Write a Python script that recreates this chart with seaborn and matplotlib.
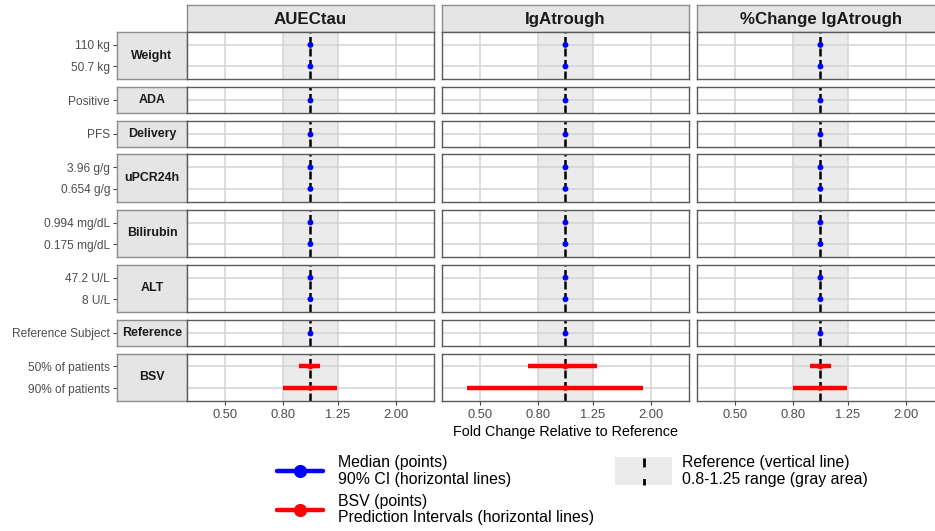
import numpy as np
import pandas as pd
import matplotlib
matplotlib.use("Agg")
import matplotlib.pyplot as plt
from matplotlib.lines import Line2D
from matplotlib.patches import Rectangle
from matplotlib.legend_handler import HandlerBase
from matplotlib.ticker import FixedLocator, FixedFormatter, NullLocator
import seaborn as sns

sns.set_theme(style="white")
plt.rcParams["font.family"] = ["Liberation Sans", "DejaVu Sans"]

# ---------------------------------------------------------------- data
endpoints = ["AUECtau", "IgAtrough", "%Change IgAtrough"]
groups = ["Weight", "ADA", "Delivery", "uPCR24h", "Bilirubin", "ALT", "Reference", "BSV"]
row_labels = [
    ["110 kg", "50.7 kg"],
    ["Positive"],
    ["PFS"],
    ["3.96 g/g", "0.654 g/g"],
    ["0.994 mg/dL", "0.175 mg/dL"],
    ["47.2 U/L", "8 U/L"],
    ["Reference Subject"],
    ["50% of patients", "90% of patients"],
]

# covariate effects (median and 90% CI), rows Weight .. Reference
cov_median = {
    "AUECtau":           [1.00, 1.00, 1.00, 1.00, 1.00, 1.00, 1.00, 1.00, 1.00, 1.00, 1.00],
    "IgAtrough":         [1.00, 1.00, 1.00, 1.00, 1.00, 1.00, 1.00, 1.00, 1.00, 1.00, 1.00],
    "%Change IgAtrough": [1.00, 1.00, 1.00, 1.00, 1.00, 1.00, 1.00, 1.00, 1.00, 1.00, 1.00],
}
cov_lower = {
    "AUECtau":           [1.00, 1.00, 1.00, 1.00, 1.00, 1.00, 1.00, 1.00, 1.00, 1.00, 1.00],
    "IgAtrough":         [1.00, 1.00, 1.00, 1.00, 1.00, 1.00, 1.00, 1.00, 1.00, 1.00, 1.00],
    "%Change IgAtrough": [1.00, 1.00, 1.00, 1.00, 1.00, 1.00, 1.00, 1.00, 1.00, 1.00, 1.00],
}
cov_upper = {
    "AUECtau":           [1.00, 1.00, 1.00, 1.00, 1.00, 1.00, 1.00, 1.00, 1.00, 1.00, 1.00],
    "IgAtrough":         [1.00, 1.00, 1.00, 1.00, 1.00, 1.00, 1.00, 1.00, 1.00, 1.00, 1.00],
    "%Change IgAtrough": [1.00, 1.00, 1.00, 1.00, 1.00, 1.00, 1.00, 1.00, 1.00, 1.00, 1.00],
}

# between-subject variability: 50% and 90% prediction intervals
bsv_median = {"AUECtau": [1.00, 1.00], "IgAtrough": [1.00, 1.00], "%Change IgAtrough": [1.00, 1.00]}
bsv_lower = {"AUECtau": [0.914, 0.80], "IgAtrough": [0.738, 0.45], "%Change IgAtrough": [0.92, 0.80]}
bsv_upper = {"AUECtau": [1.077, 1.24], "IgAtrough": [1.29, 1.88], "%Change IgAtrough": [1.085, 1.24]}

x_breaks = [0.5, 0.8, 1.25, 2.0]
x_break_labels = ["0.50", "0.80", "1.25", "2.00"]
ref_low, ref_high = 0.8, 1.25

# ---------------------------------------------------------------- long table
records = []
for ep in endpoints:
    k = 0
    for g, labs in zip(groups, row_labels):
        for pos, lab in enumerate(labs):
            if g == "BSV":
                mid, lo, hi, kind = bsv_median[ep][pos], bsv_lower[ep][pos], bsv_upper[ep][pos], "BSV"
            else:
                mid, lo, hi, kind = cov_median[ep][k], cov_lower[ep][k], cov_upper[ep][k], "Median"
                k += 1
            records.append(dict(endpoint=ep, group=g, label=lab, pos=pos,
                                mid=mid, lo=lo, hi=hi, kind=kind))
df = pd.DataFrame(records)

# ---------------------------------------------------------------- layout (pixels)
W, H = 935, 531
fig = plt.figure(figsize=(W / 100, H / 100), dpi=100)


def frect(x0, y0, x1, y1):
    return [x0 / W, 1 - y1 / H, (x1 - x0) / W, (y1 - y0) / H]


col_left = [187, 442, 697]
col_w = 247
strip_x0, strip_x1 = 117, 187
top_strip = (5, 32)
unit, gap = 21.53, 7.8

palette = {"Median": "blue", "BSV": "red"}
grid_col = "#D3D3D3"
band_col = "#EBEBEB"
border_col = "#5A5A5A"
strip_edge = "#8C8C8C"
strip_fill = "#E5E5E5"
xlim = (0.368, 2.72)

# column strips
for ep, x0 in zip(endpoints, col_left):
    sa = fig.add_axes(frect(x0, top_strip[0], x0 + col_w, top_strip[1]))
    sa.set_facecolor(strip_fill)
    sa.set_xticks([]); sa.set_yticks([])
    for s in sa.spines.values():
        s.set_color(strip_edge); s.set_linewidth(1.0)
    sa.text(0.5, 0.47, ep, ha="center", va="center", fontsize=12.2,
            fontweight="bold", color="#1A1A1A", transform=sa.transAxes)

y = top_strip[1]
for gi, (g, labs) in enumerate(zip(groups, row_labels)):
    n = len(labs)
    h = (n - 1 + 1.2) * unit
    y0, y1 = y, y + h
    ylim = (n - 1 + 0.6, -0.6)
    last = gi == len(groups) - 1

    # row strip with the level labels on its left
    ra = fig.add_axes(frect(strip_x0, y0, strip_x1, y1))
    ra.set_facecolor(strip_fill)
    ra.set_ylim(ylim)
    ra.set_xticks([])
    ra.set_yticks(range(n))
    ra.set_yticklabels(labs)
    ra.tick_params(axis="y", left=True, length=3, width=0.8, color="#444444",
                   pad=2, labelsize=8.6, labelcolor="#4D4D4D")
    for s in ra.spines.values():
        s.set_color(strip_edge); s.set_linewidth(1.0)
    ra.text(0.5, 0.5, g, ha="center", va="center", fontsize=8.9,
            fontweight="bold", color="#1A1A1A", transform=ra.transAxes)

    for ep, x0 in zip(endpoints, col_left):
        ax = fig.add_axes(frect(x0, y0, x0 + col_w, y1))
        sub = df[(df.endpoint == ep) & (df.group == g)]
        ax.set_xscale("log")
        ax.set_xlim(xlim)
        ax.set_ylim(ylim)
        ax.axvspan(ref_low, ref_high, color=band_col, lw=0, zorder=0)
        for b in x_breaks:
            ax.axvline(b, color=grid_col, lw=1.1, zorder=1)
        for p in sub.pos:
            ax.axhline(p, color=grid_col, lw=1.1, zorder=1)
        ax.axvline(1.0, color="black", lw=1.8, ls=(0, (3.2, 1.4)), zorder=3)
        ax.hlines(sub.pos, sub.lo, sub.hi,
                  colors=[palette[k] for k in sub.kind], lw=3.2, zorder=4)
        sns.scatterplot(data=sub, x="mid", y="pos", hue="kind", palette=palette,
                        s=18, linewidth=0, legend=False, ax=ax, zorder=5)
        ax.set_xlabel(""); ax.set_ylabel("")
        ax.set_yticks([])
        ax.xaxis.set_minor_locator(NullLocator())
        ax.xaxis.set_major_locator(FixedLocator(x_breaks))
        ax.xaxis.set_major_formatter(FixedFormatter(x_break_labels))
        if last:
            ax.tick_params(axis="x", bottom=True, length=3, width=0.8,
                           color="#444444", pad=2.5, labelsize=9.3,
                           labelcolor="#4D4D4D")
        else:
            ax.tick_params(axis="x", bottom=False, labelbottom=False)
        ax.set_facecolor("white")
        for s in ax.spines.values():
            s.set_color(border_col); s.set_linewidth(1.0)
            s.set_zorder(6)
    y = y1 + gap

# x axis title under the middle column
fig.text((col_left[1] + col_w / 2) / W, 1 - 432 / H,
         "Fold Change Relative to Reference", ha="center", va="center",
         fontsize=10.4, color="black")


# ---------------------------------------------------------------- legend
class RefKeyHandler(HandlerBase):
    """Gray 0.8-1.25 box with the dashed reference line through it."""

    def create_artists(self, legend, orig_handle, xdescent, ydescent,
                       width, height, fontsize, trans):
        cy = height / 2 - ydescent
        half = 10.0
        ext = 4.0
        rect = Rectangle((-xdescent - ext, cy - half), width + 2 * ext, 2 * half,
                         facecolor=band_col, edgecolor="none", transform=trans)
        cx = -xdescent + width / 2
        line = Line2D([cx, cx], [cy + half - 0.5, cy - half], color="black",
                      lw=2.0, ls=(0, (3.2, 4.2)), transform=trans)
        return [rect, line]


h_med = Line2D([], [], color="blue", lw=3.2, marker="o", markersize=9.5,
               markeredgewidth=0)
h_bsv = Line2D([], [], color="red", lw=3.2, marker="o", markersize=9.5,
               markeredgewidth=0)
h_ref = Rectangle((0, 0), 1, 1)

leg = fig.legend(
    [h_med, h_bsv, h_ref],
    ["Median (points)\n90% CI (horizontal lines)",
     "BSV (points)\nPrediction Intervals (horizontal lines)",
     "Reference (vertical line)\n0.8-1.25 range (gray area)"],
    handler_map={Rectangle: RefKeyHandler()},
    loc="upper left", bbox_to_anchor=(277 / W, 1 - 455 / H),
    ncol=2, frameon=False, fontsize=11.4, handlelength=2.9,
    handletextpad=0.95, columnspacing=1.7, labelspacing=0.45,
    borderpad=0, borderaxespad=0,
)
for t in leg.get_texts():
    t.set_linespacing(1.13)
    t.set_color("black")

fig.savefig("out.png", dpi=100)
